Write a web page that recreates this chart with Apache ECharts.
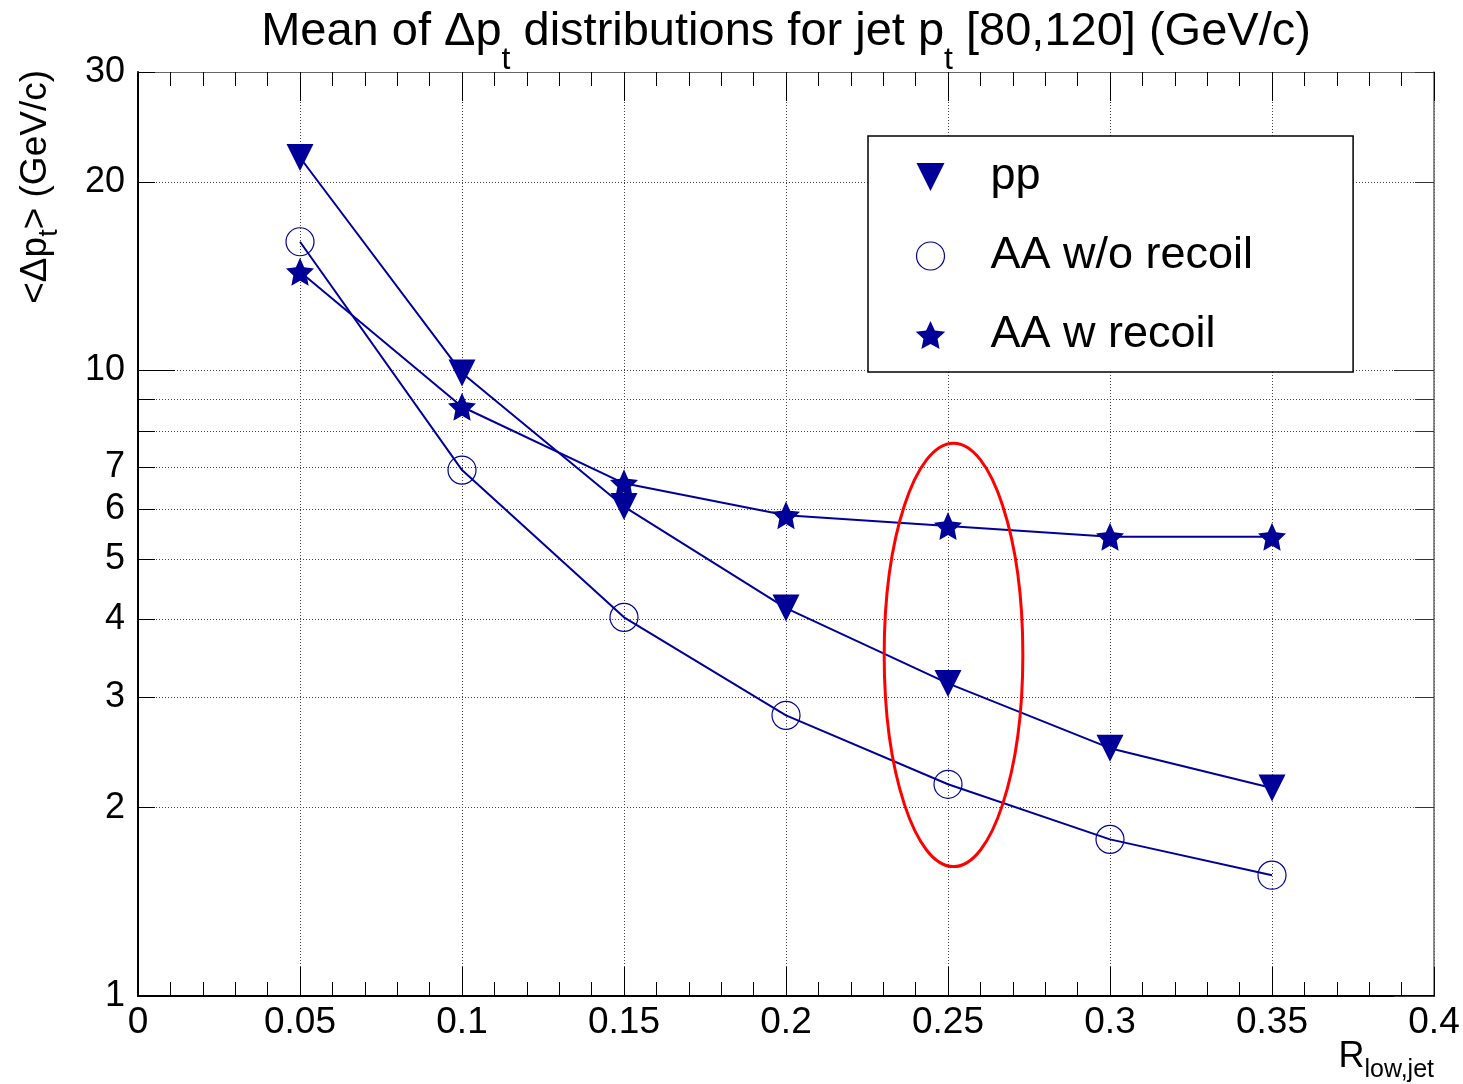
<!DOCTYPE html>
<html><head><meta charset="utf-8">
<script src="https://cdn.jsdelivr.net/npm/echarts@6/dist/echarts.min.js"></script>
<style>html,body{margin:0;padding:0;background:#fff}#c{width:1463px;height:1084px}</style>
</head><body><div id="c"></div>
<script>
const xValues = [0.05, 0.1, 0.15, 0.2, 0.25, 0.3, 0.35];
const ppValues = [21.9, 9.91, 6.06, 4.17, 3.16, 2.49, 2.15];
const aaNoRecoilValues = [16.06, 6.93, 4.03, 2.81, 2.18, 1.78, 1.56];
const aaRecoilValues = [14.38, 8.75, 6.60, 5.87, 5.64, 5.42, 5.42];
const seriesNames = ['pp', 'AA w/o recoil', 'AA w recoil'];
const xTickStep = 0.05;
const yTickLabels = [1, 2, 3, 4, 5, 6, 7, 10, 20, 30];
const yShortTicks = [2, 3, 4, 5, 6, 7, 8, 9, 20, 30];
const yLongTicks = [1, 10];
const ellipseX = [0.2303, 0.2731];
const ellipseY = [1.61, 7.65];

const FONT = 'Liberation Sans';
const BLUE = '#000099';
const triPath = 'path://M0,0 L10,0 L5,10 Z';
const starPath = 'path://M50,0 L64.1,30.6 L97.6,34.5 L72.8,57.3 L79.4,90.5 L50,74 L20.6,90.5 L27.2,57.3 L2.4,34.5 L35.9,30.6 Z';

function pts(vals) { return xValues.map((x, i) => [x, vals[i]]); }

const chart = echarts.init(document.getElementById('c'), null, {renderer: 'canvas'});

const gridLine = {show: true, lineStyle: {color: '#444', width: 1, type: [1, 2]}};

const baseX = {
  type: 'value', min: 0, max: 0.4, interval: xTickStep,
  axisTick: {show: true, inside: true, length: 29, lineStyle: {color: '#000', width: 1}},
  minorTick: {show: true, splitNumber: 5, length: 14, lineStyle: {color: '#000', width: 1}}
};
const baseY = {type: 'log', logBase: 10, min: 1, max: 30};

const option = {
  animation: false,
  backgroundColor: '#fff',
  grid: {left: 138, right: 29, top: 72, bottom: 88, outerBoundsMode: 'none'},
  title: {
    text: 'Mean of Δp{s|t} distributions for jet p{s|t} [80,120] (GeV/c)',
    left: 786, top: -12, textAlign: 'center', padding: 0,
    textStyle: {fontSize: 47, fontWeight: 'normal', color: '#000', fontFamily: FONT,
      rich: {s: {fontSize: 32, color: '#000', fontFamily: FONT, padding: [56, 0, 0, 0]}}}
  },
  legend: {
    orient: 'vertical', left: 868, top: 136, padding: [17, 100, 13, 46],
    itemGap: 31, itemWidth: 110, itemHeight: 28,
    borderColor: '#000', borderWidth: 1.5, backgroundColor: '#fff',
    selectedMode: false,
    textStyle: {fontSize: 45, lineHeight: 48, color: '#000', fontFamily: FONT},
    data: [
      {name: seriesNames[0], icon: triPath},
      {name: seriesNames[1], icon: 'circle', itemStyle: {color: 'none', borderColor: BLUE, borderWidth: 1.2}},
      {name: seriesNames[2], icon: starPath}
    ]
  },
  xAxis: [
    Object.assign({}, baseX, {
      position: 'bottom',
      axisLine: {show: true, onZero: false, lineStyle: {color: '#000', width: 2}},
      splitLine: gridLine,
      axisLabel: {fontSize: 37, color: '#000', fontFamily: FONT, margin: 8,
        formatter: v => String(+(+v).toFixed(2))}
    }),
    Object.assign({}, baseX, {
      position: 'top',
      axisLine: {show: true, onZero: false, lineStyle: {color: '#666', width: 1}},
      splitLine: {show: false}, axisLabel: {show: false}
    })
  ],
  yAxis: [
    Object.assign({}, baseY, {
      position: 'left',
      axisLine: {show: true, lineStyle: {color: '#000', width: 2}},
      axisTick: {show: true, inside: true, length: 17, customValues: yShortTicks, lineStyle: {color: '#000'}},
      axisLabel: {show: true, customValues: yTickLabels, fontSize: 36, color: '#000', fontFamily: FONT, margin: 13,
        padding: [6, 0, 0, 0]},
      splitLine: gridLine
    }),
    Object.assign({}, baseY, {
      position: 'left',
      axisLine: {show: false},
      axisTick: {show: true, inside: true, length: 37, customValues: yLongTicks, lineStyle: {color: '#000'}},
      axisLabel: {show: false},
      splitLine: gridLine
    }),
    Object.assign({}, baseY, {
      position: 'right',
      axisLine: {show: true, lineStyle: {color: '#666', width: 1.5}},
      axisTick: {show: true, inside: true, length: 19, customValues: yShortTicks, lineStyle: {color: '#333'}},
      axisLabel: {show: false}, splitLine: {show: false}
    }),
    Object.assign({}, baseY, {
      position: 'right',
      axisLine: {show: false},
      axisTick: {show: true, inside: true, length: 40, customValues: yLongTicks, lineStyle: {color: '#333'}},
      axisLabel: {show: false}, splitLine: {show: false}
    })
  ],
  graphic: [
    {type: 'text', id: 'yname', x: 36, y: 70, rotation: Math.PI / 2, z: 50,
      style: {text: '<Δp{s|t}> (GeV/c)', fontSize: 37, fontFamily: FONT, fill: '#000',
        align: 'right', verticalAlign: 'middle',
        rich: {s: {fontSize: 27, fontFamily: FONT, fill: '#000', padding: [28, 0, 0, 0]}}}},
    {type: 'text', id: 'xname', x: 1434, y: 1057, z: 50,
      style: {text: 'R{s|low,jet}', fontSize: 36, fontFamily: FONT, fill: '#000',
        align: 'right', verticalAlign: 'middle',
        rich: {s: {fontSize: 25, fontFamily: FONT, fill: '#000', padding: [26, 0, 0, 0]}}}}
  ],
  series: [
    {name: seriesNames[0], type: 'line', xAxisIndex: 0, yAxisIndex: 0, data: pts(ppValues),
      symbol: triPath, symbolSize: 27, showAllSymbol: true,
      lineStyle: {color: BLUE, width: 2}, itemStyle: {color: BLUE}, emphasis: {disabled: true}},
    {name: seriesNames[1], type: 'line', xAxisIndex: 0, yAxisIndex: 0, data: pts(aaNoRecoilValues),
      symbol: 'circle', symbolSize: 28, showAllSymbol: true,
      lineStyle: {color: BLUE, width: 2}, itemStyle: {color: 'none', borderColor: BLUE, borderWidth: 1.2},
      emphasis: {disabled: true}},
    {name: seriesNames[2], type: 'line', xAxisIndex: 0, yAxisIndex: 0, data: pts(aaRecoilValues),
      symbol: starPath, symbolSize: 28, showAllSymbol: true,
      lineStyle: {color: BLUE, width: 2}, itemStyle: {color: BLUE}, emphasis: {disabled: true}}
  ]
};
chart.setOption(option);

const pA = chart.convertToPixel({seriesIndex: 0}, [ellipseX[0], ellipseY[1]]);
const pB = chart.convertToPixel({seriesIndex: 0}, [ellipseX[1], ellipseY[0]]);
chart.setOption({graphic: [{
  type: 'ellipse', id: 'ring', z: 60,
  shape: {cx: (pA[0] + pB[0]) / 2, cy: (pA[1] + pB[1]) / 2, rx: Math.abs(pB[0] - pA[0]) / 2, ry: Math.abs(pB[1] - pA[1]) / 2},
  style: {fill: 'none', stroke: '#ff0000', lineWidth: 3}
}]});
</script></body></html>
